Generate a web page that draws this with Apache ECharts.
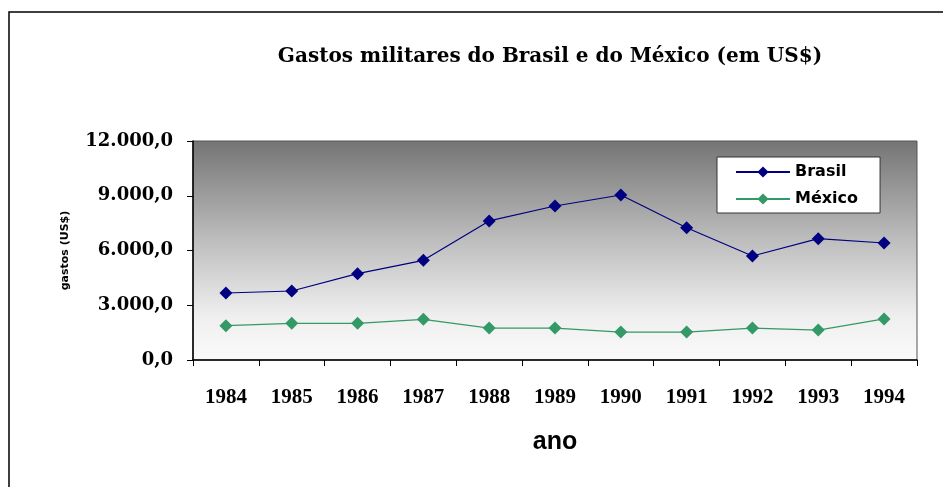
<!DOCTYPE html>
<html>
<head>
<meta charset="utf-8">
<script src="https://cdn.jsdelivr.net/npm/echarts@6/dist/echarts.min.js"></script>
<style>
  html, body { margin: 0; padding: 0; background: #fff; }
  #chart { width: 943px; height: 487px; }
</style>
</head>
<body>
<div id="chart"></div>
<script>
// dados
var anos = ['1984', '1985', '1986', '1987', '1988', '1989', '1990', '1991', '1992', '1993', '1994'];
var brasil = [3670, 3780, 4730, 5460, 7620, 8440, 9040, 7250, 5700, 6650, 6410];
var mexico = [1880, 2010, 2010, 2230, 1750, 1750, 1530, 1530, 1750, 1640, 2250];
var yTicks = [0, 3000, 6000, 9000, 12000];

function fmt(v) {
    // 12000 -> 12.000,0
    var s = String(Math.round(v));
    s = s.replace(/\B(?=(\d{3})+(?!\d))/g, '.');
    return s + ',0';
}

var chart = echarts.init(document.getElementById('chart'));

var option = {
    backgroundColor: '#fff',
    animation: false,
    title: {
        text: 'Gastos militares do Brasil e do México (em US$)',
        left: 545,
        textAlign: 'center',
        top: 42,
        textStyle: {
            fontFamily: 'DejaVu Serif',
            fontWeight: 'bold',
            fontSize: 20,
            color: '#000'
        }
    },
    graphic: [
        {
            type: 'rect',
            shape: { x: 9, y: 12, width: 960, height: 500 },
            style: { fill: 'none', stroke: '#000', lineWidth: 1.5 },
            z: 100
        },
        {
            type: 'text',
            x: 555,
            y: 442,
            style: {
                text: 'ano',
                align: 'center',
                verticalAlign: 'middle',
                font: 'bold 25px "Liberation Sans"',
                fill: '#000'
            }
        }
    ],
    legend: {
        orient: 'vertical',
        left: 717,
        top: 157,
        backgroundColor: '#fff',
        borderColor: '#333',
        borderWidth: 1,
        padding: [7, 22, 6, 18],
        itemWidth: 54,
        itemHeight: 14,
        itemGap: 11,
        textStyle: {
            fontFamily: 'DejaVu Sans',
            fontWeight: 'bold',
            fontSize: 16,
            color: '#000'
        },
        data: ['Brasil', 'México']
    },
    grid: {
        left: 193,
        right: 26,
        top: 141,
        bottom: 127,
        show: true,
        borderColor: '#555',
        borderWidth: 1,
        backgroundColor: new echarts.graphic.LinearGradient(0, 0, 0, 1, [
            { offset: 0, color: '#747474' },
            { offset: 0.45, color: '#bdbdbd' },
            { offset: 0.8, color: '#efefef' },
            { offset: 1, color: '#fafafa' }
        ])
    },
    xAxis: {
        type: 'category',
        data: anos,
        boundaryGap: true,
        axisLine: { lineStyle: { color: '#000', width: 1.5 } },
        axisTick: { show: true, length: 6, alignWithLabel: false, lineStyle: { color: '#000' } },
        axisLabel: {
            margin: 27,
            fontFamily: 'Liberation Serif',
            fontWeight: 'bold',
            fontSize: 21,
            color: '#000'
        },
        splitLine: { show: false }
    },
    yAxis: {
        type: 'value',
        min: yTicks[0],
        max: yTicks[yTicks.length - 1],
        interval: 3000,
        name: 'gastos (US$)',
        nameLocation: 'middle',
        nameGap: 122,
        nameRotate: 90,
        nameTextStyle: {
            fontFamily: 'DejaVu Sans',
            fontWeight: 'bold',
            fontSize: 11,
            color: '#000'
        },
        axisLine: { show: true, lineStyle: { color: '#000', width: 1.5 } },
        axisTick: { show: true, inside: false, length: 6, lineStyle: { color: '#000' } },
        axisLabel: {
            margin: 20,
            formatter: fmt,
            fontFamily: 'DejaVu Serif',
            fontWeight: 'bold',
            fontSize: 18,
            color: '#000'
        },
        splitLine: { show: false }
    },
    series: [
        {
            name: 'Brasil',
            type: 'line',
            data: brasil,
            symbol: 'diamond',
            symbolSize: 13,
            itemStyle: { color: '#000080' },
            lineStyle: { color: '#000080', width: 1.2 }
        },
        {
            name: 'México',
            type: 'line',
            data: mexico,
            symbol: 'diamond',
            symbolSize: 13,
            itemStyle: { color: '#339966' },
            lineStyle: { color: '#339966', width: 1.2 }
        }
    ]
};

chart.setOption(option);
</script>
</body>
</html>
